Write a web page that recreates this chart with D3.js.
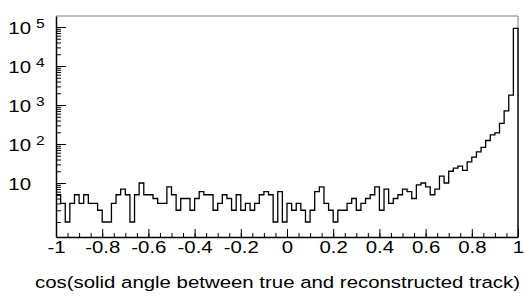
<!DOCTYPE html>
<html>
<head>
<meta charset="utf-8">
<script src="https://cdn.jsdelivr.net/npm/d3@7"></script>
<style>
    body { margin: 0; background: #fff; }
    text { font-family: "Liberation Sans", Arial, Helvetica, sans-serif; fill: #000; }
</style>
</head>
<body>
<div id="chart"></div>
<script>
// histogram contents, 100 bins from -1 to 1
const counts = [
    5, 3, 1, 3, 5, 3, 5, 3, 3, 2,
    1, 1, 3, 5, 7, 5, 1, 5, 10, 5,
    5, 4, 3, 3, 8, 5, 2, 4, 4, 2,
    4, 6, 5, 5, 2, 3, 5, 4, 2, 5,
    2, 3, 2, 3, 5, 6, 5, 1, 6, 1,
    3, 2, 3, 2, 1, 2, 6, 8, 3, 2,
    1, 2, 2, 3, 4, 2, 3, 4, 5, 8,
    2, 7, 3, 4, 5, 7, 6, 4, 9, 10,
    8, 5, 7, 15, 10, 20, 24, 27, 21, 35,
    46, 63, 82, 123, 172, 192, 340, 710, 1800, 92000
];
const binLow = -1, binHigh = 1;

const xTicks = [-1, -0.8, -0.6, -0.4, -0.2, 0, 0.2, 0.4, 0.6, 0.8, 1];
const xTickLabels = ["-1", "-0.8", "-0.6", "-0.4", "-0.2", "0", "0.2", "0.4", "0.6", "0.8", "1"];
const yDecades = [10, 100, 1000, 10000, 100000];
const yExponents = ["", "2", "3", "4", "5"];
const xTitle = "cos(solid angle between true and reconstructed track)";

const width = 524, height = 297;
const margin = {top: 16, right: 6, bottom: 60, left: 56};
const stretch = 1.2; // the original font is drawn wide
const fontSize = 17;

const svg = d3.select("#chart").append("svg")
    .attr("width", width)
    .attr("height", height);

const x = d3.scaleLinear()
    .domain([binLow, binHigh])
    .range([margin.left, width - margin.right]);

const y = d3.scaleLog()
    .domain([0.4125, 191500])
    .range([height - margin.bottom, margin.top]);

const bottom = height - margin.bottom;

// frame top and right
svg.append("path")
    .attr("d", "M" + x(binLow) + "," + y.range()[1] + "H" + x(binHigh) + "V" + bottom)
    .attr("fill", "none")
    .attr("stroke", "#808080")
    .attr("stroke-width", 1);

// x minor ticks
svg.append("g")
    .attr("transform", "translate(0," + bottom + ")")
    .call(d3.axisBottom(x)
        .tickValues(d3.range(0, 41).map(i => binLow + i * 0.05))
        .tickSizeInner(-4).tickSizeOuter(0).tickFormat(""))
    .call(g => g.select(".domain").remove())
    .selectAll("line").attr("stroke", "#000");

// x major ticks + labels
const xAxis = svg.append("g")
    .attr("transform", "translate(0," + bottom + ")")
    .call(d3.axisBottom(x)
        .tickValues(xTicks)
        .tickFormat((d, i) => xTickLabels[i])
        .tickSizeInner(-8).tickSizeOuter(0));
xAxis.select(".domain").attr("stroke", "#000").attr("stroke-width", 1.5);
xAxis.selectAll("line").attr("stroke", "#000");
xAxis.selectAll("text")
    .attr("y", 16).attr("dy", null)
    .attr("font-size", fontSize)
    .attr("font-family", null)
    .attr("transform", "scale(" + stretch + ",1)")
    .attr("x", 0);

// y minor ticks: 1..9 x 10^n
const yMinor = [];
for (let e = 0; e <= 5; e++) {
    for (let m = 1; m <= 9; m++) {
        const v = m * Math.pow(10, e);
        if (v >= y.domain()[0] && v <= y.domain()[1] && !yDecades.includes(v)) yMinor.push(v);
    }
}
svg.append("g")
    .attr("transform", "translate(" + margin.left + ",0)")
    .call(d3.axisLeft(y).tickValues(yMinor).tickSizeInner(-5).tickSizeOuter(0).tickFormat(""))
    .call(g => g.select(".domain").remove())
    .selectAll("line").attr("stroke", "#000");

const yAxis = svg.append("g")
    .attr("transform", "translate(" + margin.left + ",0)")
    .call(d3.axisLeft(y).tickValues(yDecades).tickSizeInner(-10).tickSizeOuter(0).tickFormat(""));
yAxis.select(".domain").attr("stroke", "#000").attr("stroke-width", 1.5);
yAxis.selectAll("line").attr("stroke", "#000");

// y labels as 10 with a raised exponent
const yLab = svg.append("g");
yDecades.forEach((d, i) => {
    yLab.append("text")
        .attr("transform", "translate(31," + (y(d) + 6.5) + ") scale(" + stretch + ",1)")
        .attr("text-anchor", "end")
        .attr("font-size", fontSize)
        .text("10");
    if (yExponents[i]) {
        yLab.append("text")
            .attr("transform", "translate(36," + (y(d) + 0.5) + ") scale(" + stretch + ",1)")
            .attr("font-size", 13)
            .text(yExponents[i]);
    }
});

// histogram outline
const binWidth = (binHigh - binLow) / counts.length;
const pts = [];
counts.forEach((c, i) => {
    const lo = binLow + i * binWidth;
    pts.push([x(lo), y(c)], [x(lo + binWidth), y(c)]);
});
pts.push([x(binHigh), bottom]);

svg.append("path")
    .datum(pts)
    .attr("fill", "none")
    .attr("stroke", "#000")
    .attr("stroke-width", 1.3)
    .attr("d", d3.line());

// axis title
svg.append("text")
    .attr("transform", "translate(520,288) scale(" + stretch + ",1)")
    .attr("text-anchor", "end")
    .attr("font-size", fontSize)
    .text(xTitle);
</script>
</body>
</html>
